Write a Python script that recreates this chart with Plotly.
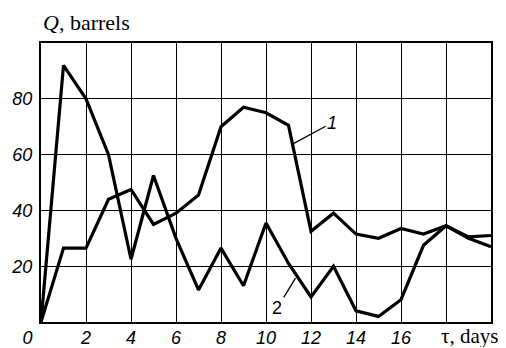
import plotly.graph_objects as go

days = list(range(21))
q1 = [0, 26.5, 26.5, 44, 47.5, 35, 39, 45.5, 70, 77, 75, 70.5, 32.5, 39, 31.5, 30, 33.5, 31.5, 34.5, 30.5, 31]
q2 = [0, 92, 80, 60, 22.5, 52.5, 30, 11.5, 26.5, 13, 35.5, 21, 9, 20, 4, 2, 8, 27.5, 34.5, 30, 27]

x_tickvals = [0, 2, 4, 6, 8, 10, 12, 14, 16, 18, 20]
x_ticktext = ["0\u2003\u2002", "2", "4", "6", "8", "10", "12", "14", "16", "", ""]
y_tickvals = [0, 20, 40, 60, 80, 100]
y_ticktext = ["", "20", "40", "60", "80", ""]

curve_labels = ["1", "2"]
label_text_pos = [(12.94, 71.4), (10.5, 5.0)]
label_point_pos = [(11.24, 64.0), (11.31, 15.7)]

fig = go.Figure()
for q in (q1, q2):
    fig.add_trace(go.Scatter(x=days, y=q, mode="lines",
                             line=dict(color="black", width=3.2),
                             showlegend=False, hoverinfo="skip"))

tickfont = dict(family="Liberation Sans", size=18, color="black", style="italic")

fig.update_xaxes(range=[0, 20], tickvals=x_tickvals, ticktext=x_ticktext,
                 showgrid=True, gridcolor="black", gridwidth=1.4,
                 showline=True, linecolor="black", linewidth=2, mirror=True,
                 zeroline=False, ticks="", tickfont=tickfont, ticklabelstandoff=-2,
                 automargin=False)
fig.update_yaxes(range=[0, 100], tickvals=y_tickvals, ticktext=y_ticktext,
                 showgrid=True, gridcolor="black", gridwidth=1.4,
                 showline=True, linecolor="black", linewidth=2, mirror=True,
                 zeroline=False, ticks="", tickfont=tickfont, ticklabelstandoff=3,
                 automargin=False)

for lab, (tx, ty), (px, py) in zip(curve_labels, label_text_pos, label_point_pos):
    fig.add_annotation(x=px, y=py, ax=tx, ay=ty, axref="x", ayref="y", xref="x", yref="y",
                       text=lab, showarrow=True, arrowhead=0, arrowwidth=1.3,
                       arrowcolor="black", standoff=0,
                       font=dict(family="Liberation Sans", size=18, color="black",
                                 style="italic" if lab == "1" else "normal"))

fig.add_annotation(text="<i>Q</i>, barrels", xref="paper", yref="paper", x=0, y=1,
                   xanchor="left", yanchor="middle", yshift=21, showarrow=False,
                   font=dict(family="Liberation Serif", size=22, color="black"))
fig.add_annotation(text="\u03c4, days", xref="paper", yref="paper", x=0.953, y=0,
                   xanchor="center", yanchor="middle", yshift=-14, showarrow=False,
                   height=22, valign="middle",
                   font=dict(family="Liberation Serif", size=21, color="black"))

fig.update_layout(width=498, height=340, plot_bgcolor="white", paper_bgcolor="white",
                  margin=dict(l=33, r=15, t=35, b=26))
fig.write_html("out.html")
